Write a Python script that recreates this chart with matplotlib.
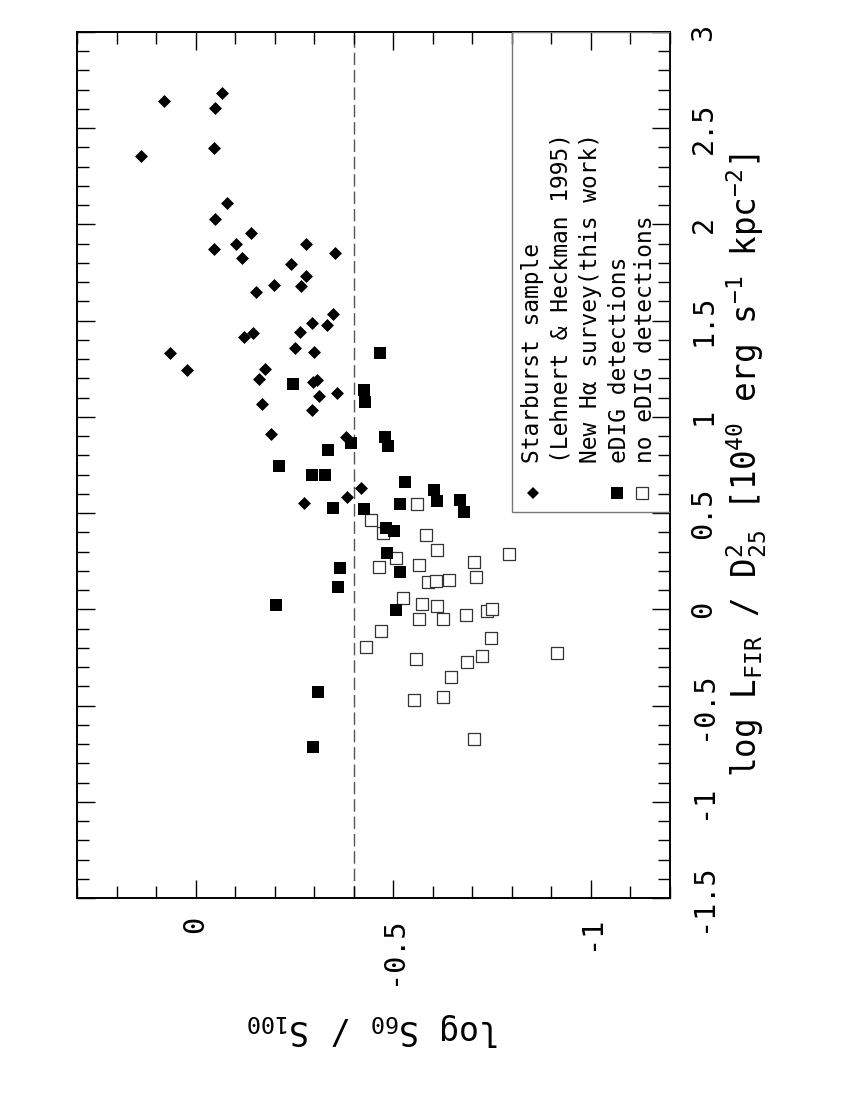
import matplotlib
matplotlib.use("Agg")
import matplotlib.pyplot as plt
from matplotlib.ticker import FixedLocator, MultipleLocator, FuncFormatter
from matplotlib.patches import Rectangle

plt.rcParams['font.family'] = ['DejaVu Sans Mono', 'DejaVu Sans']
plt.rcParams['mathtext.default'] = 'regular'
plt.rcParams['axes.unicode_minus'] = False

# ---- data: (log S60/S100, log LFIR/D25^2) ----
starburst_s = [0.079, -0.068, -0.048, 0.138, -0.046, -0.079, -0.050, -0.140, -0.103, -0.046,
               -0.117, -0.279, -0.352, -0.242, -0.278, -0.198, -0.266, -0.152, -0.347, -0.295,
               -0.332, -0.263, -0.146, -0.123, 0.065, -0.252, -0.300, 0.021, -0.176, -0.161,
               -0.296, -0.308, -0.358, -0.313, -0.167, -0.294, -0.190, -0.380, -0.275, -0.384,
               -0.419]
starburst_l = [2.644, 2.682, 2.606, 2.357, 2.397, 2.114, 2.029, 1.955, 1.898, 1.870,
               1.825, 1.899, 1.851, 1.797, 1.734, 1.685, 1.682, 1.648, 1.535, 1.490,
               1.477, 1.440, 1.435, 1.414, 1.334, 1.357, 1.338, 1.244, 1.248, 1.198,
               1.183, 1.191, 1.123, 1.106, 1.068, 1.036, 0.913, 0.898, 0.555, 0.583,
               0.631]

edig_s = [-0.466, -0.247, -0.427, -0.429, -0.479, -0.487, -0.392, -0.334, -0.212, -0.294,
          -0.327, -0.530, -0.604, -0.611, -0.670, -0.680, -0.516, -0.347, -0.425, -0.482,
          -0.503, -0.483, -0.516, -0.366, -0.360, -0.204, -0.507, -0.310, -0.296]
edig_l = [1.334, 1.172, 1.140, 1.076, 0.895, 0.849, 0.863, 0.828, 0.745, 0.700,
          0.700, 0.661, 0.621, 0.565, 0.569, 0.506, 0.546, 0.525, 0.520, 0.422,
          0.409, 0.292, 0.193, 0.214, 0.115, 0.024, -0.002, -0.431, -0.715]

noedig_s = [-0.559, -0.444, -0.474, -0.584, -0.611, -0.508, -0.464, -0.566, -0.704, -0.794,
            -0.710, -0.587, -0.607, -0.642, -0.525, -0.573, -0.610, -0.565, -0.625, -0.685,
            -0.738, -0.750, -0.469, -0.432, -0.557, -0.746, -0.725, -0.687, -0.913, -0.646,
            -0.552, -0.627, -0.705]
noedig_l = [0.548, 0.466, 0.397, 0.385, 0.307, 0.269, 0.220, 0.231, 0.245, 0.290,
            0.170, 0.141, 0.149, 0.153, 0.061, 0.030, 0.016, -0.050, -0.051, -0.028,
            -0.008, 0.002, -0.114, -0.194, -0.256, -0.149, -0.242, -0.273, -0.227, -0.350,
            -0.471, -0.455, -0.675]

divider_s = -0.4

s_ticks = [0, -0.5, -1]
s_tick_labels = ['0', '-0.5', '-1']
l_ticks = [-1.5, -1, -0.5, 0, 0.5, 1, 1.5, 2, 2.5, 3]
l_tick_labels = ['-1.5', '-1', '-0.5', '0', '0.5', '1', '1.5', '2', '2.5', '3']

legend_lines = ['Starburst sample', '(Lehnert & Heckman 1995)',
                'New H\u03b1 survey(this work)', 'eDIG detections', 'no eDIG detections']

# ---- figure ----
fig = plt.figure(figsize=(8.5, 11), dpi=100)
ax = fig.add_axes([77/850, 1 - 898/1100, 593/850, 866/1100])

ax.scatter(starburst_s, starburst_l, marker='D', s=6.6**2, c='black', linewidths=0, zorder=3)
ax.scatter(edig_s, edig_l, marker='s', s=9.2**2, c='black', linewidths=0, zorder=3)
ax.scatter(noedig_s, noedig_l, marker='s', s=8.6**2, facecolors='white',
           edgecolors='#333333', linewidths=0.9, zorder=2)
ax.axvline(divider_s, color='#555555', lw=1.0, dashes=(9, 3.5), zorder=1)

ax.set_xlim(0.3, -1.2)
ax.set_ylim(-1.5, 3.0)

ax.xaxis.set_major_locator(FixedLocator(s_ticks))
ax.xaxis.set_major_formatter(FuncFormatter(lambda v, p: s_tick_labels[s_ticks.index(round(v, 2))]
                                           if round(v, 2) in s_ticks else ''))
ax.xaxis.set_minor_locator(MultipleLocator(0.1))
ax.yaxis.set_major_locator(FixedLocator(l_ticks))
ax.yaxis.set_major_formatter(FuncFormatter(lambda v, p: l_tick_labels[l_ticks.index(round(v, 2))]
                                           if round(v, 2) in l_ticks else ''))
ax.yaxis.set_minor_locator(MultipleLocator(0.1))

ax.tick_params(which='both', direction='in', top=True, bottom=True, left=True, right=True,
               color='black', width=1.0)
ax.tick_params(which='major', length=13)
ax.tick_params(which='minor', length=8.5)
ax.tick_params(axis='x', which='major', labelsize=20.5, labelrotation=90, pad=13)
ax.tick_params(axis='y', which='major', labelsize=20.5, labelrotation=90, pad=14,
               labelleft=False, labelright=True)
for t in ax.get_yticklabels():
    t.set_va('center')

for sp in ax.spines.values():
    sp.set_linewidth(1.4)

ax.set_xlabel(r'log S$_{60}$ / S$_{100}$', fontsize=24, rotation=180)
ax.xaxis.set_label_coords(0.5, -0.152)
ax.xaxis.label.set_va('center')

ax.yaxis.set_label_position('right')
ax.set_ylabel(r'log L$_{FIR}$ / D$^2_{25}$ [10$^{40}$ erg s$^{-1}$ kpc$^{-2}$]',
              fontsize=23.5, rotation=90)
ax.yaxis.set_label_coords(1.13, 0.5)
ax.yaxis.label.set_va('center')

# ---- legend ----
lx0, ly0 = (511.7 - 77) / 593, (898 - 511.7) / 866
ax.add_patch(Rectangle((lx0, ly0), 1 - lx0, 1 - ly0, transform=ax.transAxes,
                       fill=False, edgecolor='#777777', lw=1.0, zorder=4))
col_x = [(533 - 77) / 593, (561 - 77) / 593, (590 - 77) / 593, (619 - 77) / 593, (645 - 77) / 593]
text_y = (898 - 463) / 866
for xx, txt in zip(col_x, legend_lines):
    ax.text(xx, text_y, txt, transform=ax.transAxes, rotation=90, fontsize=16.5,
            ha='center', va='bottom', zorder=5)
sym_y = (898 - 493) / 866
ax.plot([col_x[0]], [sym_y], marker='D', ms=6.6, color='black', mew=0,
        transform=ax.transAxes, zorder=5, clip_on=False)
ax.plot([(617 - 77) / 593], [sym_y], marker='s', ms=9.2, color='black', mew=0,
        transform=ax.transAxes, zorder=5, clip_on=False)
ax.plot([(642 - 77) / 593], [sym_y], marker='s', ms=8.6, mfc='white', mec='#333333', mew=0.9,
        transform=ax.transAxes, zorder=5, clip_on=False)

fig.savefig('out.png', dpi=100)
